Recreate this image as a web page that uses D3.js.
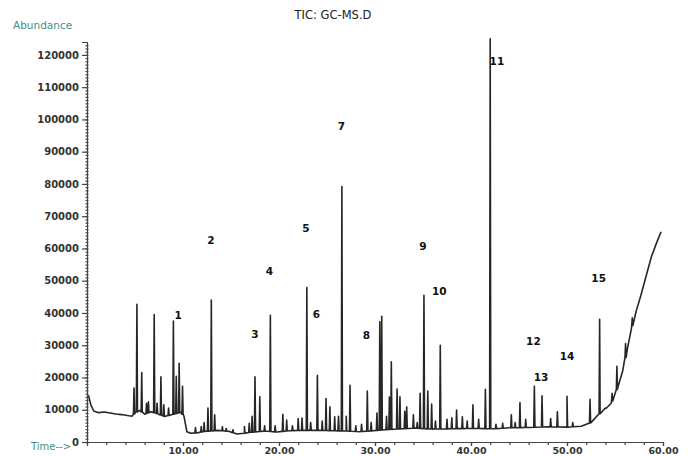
<!DOCTYPE html>
<html>
<head>
<meta charset="utf-8">
<script src="https://cdn.jsdelivr.net/npm/d3@7"></script>
<style>
  body { margin: 0; background: #fff; }
  text { font-family: 'DejaVu Sans', sans-serif; }
</style>
</head>
<body>
<div class="chart"></div>
<script>
// baseline of the TIC trace, [time (min), abundance]
const baseline = [
  [0.15, 14500], [0.4, 11500], [0.7, 9600], [1.2, 9100], [1.8, 9300], [2.4, 9000],
  [3.0, 8700], [3.6, 8500], [4.2, 8200], [4.7, 8000], [5.0, 9000], [5.5, 9800],
  [6.0, 8600], [6.7, 9400], [7.4, 8700], [8.1, 7900], [8.7, 8400], [9.8, 9200],
  [10.1, 8000], [10.4, 3200], [10.8, 2700], [11.6, 2900], [12.3, 3300], [13.6, 3600],
  [14.8, 3300], [15.6, 2500], [16.4, 2700], [17.0, 3000], [18.6, 3400], [19.8, 3100],
  [21.0, 3500], [22.6, 3600], [24.2, 3600], [25.6, 3500], [27.0, 3400], [28.3, 3200],
  [29.8, 3500], [31.0, 3800], [32.8, 4100], [34.2, 4300], [36.0, 4000], [37.8, 4100],
  [40.0, 4200], [42.4, 4100], [44.0, 4400], [46.0, 4500], [48.0, 4700], [50.0, 4600],
  [51.5, 4900], [52.5, 6000], [53.45, 8900], [54.6, 12000], [55.3, 17000], [55.8, 22000],
  [56.3, 29000], [56.7, 35000], [57.2, 40500], [57.7, 45500], [58.2, 51000], [58.8, 57500],
  [59.3, 61500], [59.8, 65200]
];

// peak apexes, [time (min), abundance]
const peaks = [
  [4.9, 16700], [5.2, 42700], [5.7, 21500], [6.2, 12000], [6.4, 12500], [7.0, 39500],
  [7.3, 12000], [7.7, 20200], [8.0, 11500], [8.5, 10500], [9.0, 37500], [9.3, 20400],
  [9.6, 24400], [9.95, 17300],
  [11.3, 4500], [11.9, 4800], [12.2, 6000], [12.6, 10500], [12.95, 44000], [13.3, 8400],
  [14.1, 4700], [14.5, 4200], [15.2, 3800], [16.4, 4800], [16.9, 5800], [17.2, 8000],
  [17.5, 20200], [18.0, 14000], [18.5, 5000], [19.1, 39300], [19.6, 5000], [20.4, 8600],
  [20.8, 6800], [21.4, 5000], [22.0, 7300], [22.4, 7400], [22.9, 47900], [23.3, 6000],
  [24.0, 20700], [24.5, 6500], [24.9, 13500], [25.3, 10900], [25.8, 7800], [26.2, 8000],
  [26.55, 79200], [27.0, 8000], [27.4, 17600], [28.0, 5000], [28.6, 5500], [29.2, 15800],
  [29.6, 6000], [30.2, 9000], [30.5, 37300], [30.7, 39000], [31.2, 8000], [31.5, 13900],
  [31.7, 24900], [32.3, 16400], [32.6, 14000], [33.1, 9500], [33.3, 10900], [34.0, 8400],
  [34.4, 6000], [34.7, 15100], [35.1, 45500], [35.5, 15800], [35.9, 11800], [36.3, 6500],
  [36.8, 30000], [37.5, 7000], [38.0, 7500], [38.5, 9900], [39.1, 7800], [39.6, 6500],
  [40.2, 11500], [40.8, 7000], [41.5, 16300], [42.0, 125000], [42.6, 5500], [43.3, 5800],
  [44.2, 8400], [44.6, 6000], [45.1, 12200], [45.7, 7000], [46.6, 17300], [47.4, 14300],
  [48.3, 7300], [49.0, 9400], [50.0, 14200], [50.6, 6000], [52.4, 13200], [53.4, 38000],
  [54.0, 10500], [54.7, 15100], [55.2, 23500], [56.1, 30500], [56.8, 38500]
];

// numbered peak labels, [label, time, abundance]
const peakLabels = [
  ['1', 9.5, 39000], ['2', 12.9, 62300], ['3', 17.5, 33200], ['4', 19.0, 52700],
  ['5', 22.8, 66000], ['6', 23.9, 39400], ['7', 26.5, 97600], ['8', 29.1, 32900],
  ['9', 35.0, 60400], ['10', 36.7, 46500], ['11', 42.7, 117800], ['12', 46.5, 31000],
  ['13', 47.3, 19800], ['14', 50.0, 26400], ['15', 53.3, 50500]
];

const yTicks = [0, 10000, 20000, 30000, 40000, 50000, 60000, 70000, 80000, 90000, 100000, 110000, 120000];
const xTicks = [10, 20, 30, 40, 50, 60];

const width = 692, height = 456;

const svg = d3.select('.chart')
  .append('svg')
    .attr('width', width)
    .attr('height', height);

const x = d3.scaleLinear().domain([0, 60]).range([87, 663]);
const y = d3.scaleLinear().domain([0, 124000]).range([442, 42]);

// baseline level under each peak, used for the foot of the spike
const baseAt = d3.scaleLinear()
  .domain(baseline.map(d => d[0]))
  .range(baseline.map(d => d[1]))
  .clamp(true);

const half = 0.06;
const pts = baseline.map(d => [d[0], d[1]]);
peaks.forEach(p => {
  const b = baseAt(p[0]);
  pts.push([p[0] - half, b], [p[0], p[1]], [p[0] + half, b]);
});
pts.sort((a, b) => a[0] - b[0]);

const line = d3.line()
  .x(d => x(d[0]))
  .y(d => y(d[1]));

svg.append('path')
  .datum(pts)
  .attr('fill', 'none')
  .attr('stroke', '#262626')
  .attr('stroke-width', 1.6)
  .attr('stroke-linejoin', 'round')
  .attr('d', line);

// y axis
const yAxis = svg.append('g')
  .attr('transform', `translate(${x(0)},0)`)
  .call(d3.axisLeft(y).tickValues(yTicks).tickSize(5).tickPadding(3).tickFormat(d3.format('d')));

svg.append('g')
  .attr('transform', `translate(${x(0) + 1.5},0)`)
  .call(d3.axisLeft(y).tickValues(d3.range(0, 124000, 1000)).tickSize(3).tickFormat(''))
  .call(g => g.select('.domain').remove());

// x axis
const xAxis = svg.append('g')
  .attr('transform', `translate(0,${y(0)})`)
  .call(d3.axisBottom(x).tickValues(xTicks).tickSize(4).tickPadding(1).tickFormat(d3.format('.2f')));

svg.append('g')
  .attr('transform', `translate(0,${y(0)})`)
  .call(d3.axisBottom(x).tickValues(d3.range(0, 60, 2)).tickSize(3).tickFormat(''))
  .call(g => g.select('.domain').remove());

svg.selectAll('.domain, .tick line')
  .attr('stroke', '#444')
  .attr('stroke-width', 1.2);

yAxis.selectAll('text')
  .attr('font-size', '10px')
  .attr('font-weight', 'bold')
  .attr('fill', '#333');

xAxis.selectAll('text')
  .attr('font-size', '9.5px')
  .attr('font-weight', 'bold')
  .attr('fill', '#333');

// peak numbers
svg.selectAll('.peak-label')
  .data(peakLabels)
  .enter()
  .append('text')
    .attr('class', 'peak-label')
    .attr('x', d => x(d[1]))
    .attr('y', d => y(d[2]))
    .attr('text-anchor', 'middle')
    .attr('dominant-baseline', 'middle')
    .attr('font-size', '10.5px')
    .attr('font-weight', 'bold')
    .attr('fill', '#111')
    .text(d => d[0]);

svg.append('text')
  .attr('x', 333)
  .attr('y', 15)
  .attr('text-anchor', 'middle')
  .attr('dominant-baseline', 'middle')
  .attr('font-size', '11.5px')
  .attr('fill', '#222')
  .text('TIC: GC-MS.D');

svg.append('text')
  .attr('x', 13)
  .attr('y', 26)
  .attr('dominant-baseline', 'middle')
  .attr('font-size', '10.5px')
  .attr('fill', '#3f8f86')
  .text('Abundance');

svg.append('text')
  .attr('x', 31)
  .attr('y', 447)
  .attr('dominant-baseline', 'middle')
  .attr('font-size', '10px')
  .attr('fill', '#3f8f86')
  .text('Time-->');
</script>
</body>
</html>
